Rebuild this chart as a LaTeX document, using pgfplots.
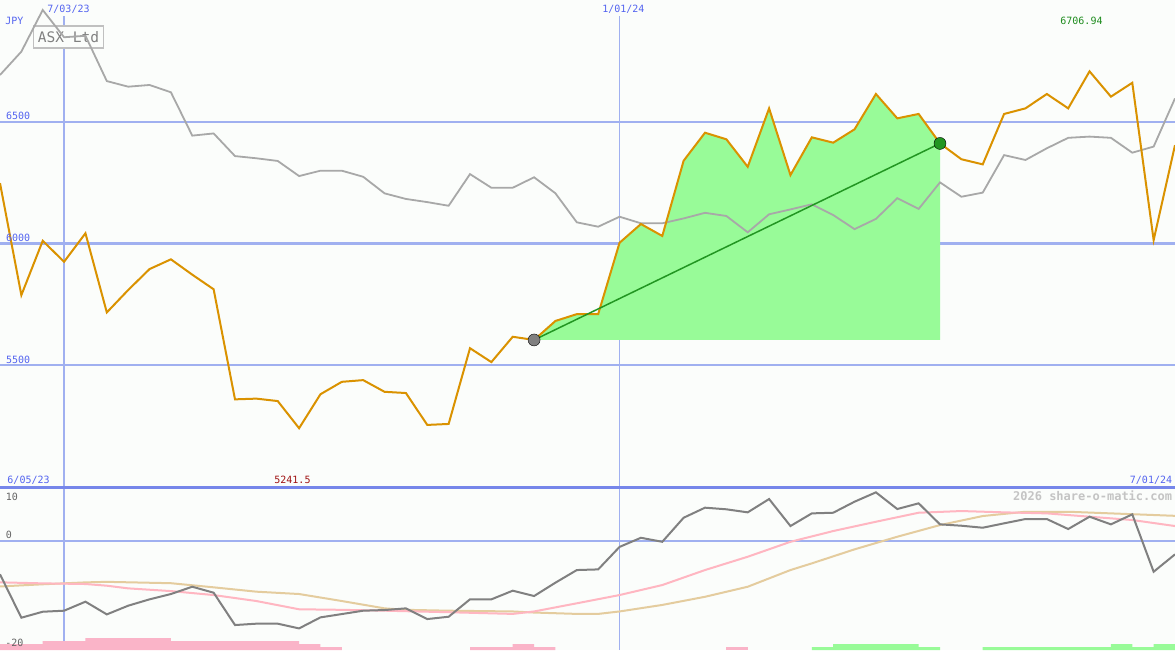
\documentclass[border=0pt]{standalone}
\usepackage{pgfplots}
\pgfplotsset{compat=1.18}
\usepackage{pgfplotstable}
\usepackage{fontspec}
\setmainfont{DejaVu Sans Mono}
\definecolor{bg}{RGB}{251,253,251}
\definecolor{gridc}{RGB}{160,176,240}
\definecolor{sepc}{RGB}{118,134,234}
\definecolor{labc}{RGB}{84,100,240}
\definecolor{orangec}{RGB}{218,146,0}
\definecolor{greyc}{RGB}{168,168,168}
\definecolor{fillg}{RGB}{152,251,152}
\definecolor{trendg}{RGB}{34,150,34}
\definecolor{dgrey}{RGB}{128,128,128}
\definecolor{pinkc}{RGB}{255,182,193}
\definecolor{pinkbar}{RGB}{250,180,200}
\definecolor{tanc}{RGB}{228,204,158}
\definecolor{maxg}{RGB}{30,140,30}
\definecolor{minr}{RGB}{160,20,20}
\definecolor{boxc}{RGB}{192,192,192}
\definecolor{wmark}{RGB}{196,196,196}
\definecolor{btick}{RGB}{100,100,100}
\newcommand\lab{\fontsize{10}{12}\selectfont}

\pgfplotstableread{
i price bench osc
0 6248 6692 -6.07
1 5788 6788 -14.05
2 6011 6959 -12.95
3 5925 6847 -12.76
4 6042 6853 -11.10
5 5717 6667 -13.44
6 5809 6644 -11.84
7 5895 6651 -10.67
8 5935 6621 -9.69
9 5872 6443 -8.35
10 5812 6452 -9.45
11 5360 6359 -15.40
12 5363 6350 -15.15
13 5353 6339 -15.15
14 5241.5 6277 -16.02
15 5381 6299 -13.99
16 5432 6299 -13.38
17 5439 6274 -12.76
18 5391 6206 -12.64
19 5386 6183 -12.33
20 5255 6170 -14.30
21 5259 6155 -13.87
22 5570 6285 -10.67
23 5513 6229 -10.67
24 5617 6229 -9.08
25 5604 6272 -10.06
26 5682 6206 -7.60
27 5710 6087 -5.28
28 5710 6069 -5.16
29 6003 6110 -1.02
30 6080 6083 0.66
31 6031 6083 -0.08
32 6340 6103 4.35
33 6455 6126 6.20
34 6428 6113 5.90
35 6315 6046 5.34
36 6555 6120 7.79
37 6281 6140 2.82
38 6436 6161 5.15
39 6414 6117 5.27
40 6469 6059 7.30
41 6614 6101 9.02
42 6514 6186 5.95
43 6532 6142 7.00
44 6411 6251 3.13
45 6346 6192 2.88
46 6325 6209 2.51
47 6532 6363 3.32
48 6555 6343 4.11
49 6614 6391 4.11
50 6555 6434 2.27
51 6706.94 6439 4.54
52 6603 6434 3.13
53 6660 6373 4.97
54 6014 6398 -5.59
55 6404 6596 -2.39
}\maintable

\pgfplotsset{panel/.style={width=1175pt, scale only axis, xmin=0, xmax=55,
  axis line style={draw=none}, tick style={draw=none}, major tick length=0pt,
  xticklabels={}, yticklabels={}, axis background/.style={fill=bg}}}

\begin{document}
\begin{tikzpicture}
% ---------------- bottom panel ----------------
\begin{axis}[panel, name=bot, at={(0pt,0pt)}, anchor=south west, height=163pt,
  ymin=-20, ymax=10, ytick={0}, ymajorgrids, y grid style={gridc, line width=1.8pt},
  xtick={3,29}, xmajorgrids, x grid style={gridc, line width=1.8pt}]
% bars
\addplot[fill=pinkbar, draw=none] coordinates {(0,-20) (0,-18.896) (2,-18.896) (2,-18.344) (4,-18.344) (4,-17.791) (8,-17.791) (8,-18.344) (14,-18.344) (14,-18.896) (15,-18.896) (15,-19.448) (16,-19.448) (16,-20)} -- cycle;
\addplot[fill=pinkbar, draw=none] coordinates {(22,-20) (22,-19.448) (24,-19.448) (24,-18.896) (25,-18.896) (25,-19.448) (26,-19.448) (26,-20)} -- cycle;
\addplot[fill=pinkbar, draw=none] coordinates {(34,-20) (34,-19.448) (35,-19.448) (35,-20)} -- cycle;
\addplot[fill=fillg, draw=none] coordinates {(38,-20) (38,-19.448) (39,-19.448) (39,-18.896) (43,-18.896) (43,-19.448) (44,-19.448) (44,-20)} -- cycle;
\addplot[fill=fillg, draw=none] coordinates {(46,-20) (46,-19.448) (52,-19.448) (52,-18.896) (53,-18.896) (53,-19.448) (54,-19.448) (54,-18.896) (55,-18.896) (55,-20)} -- cycle;
% averages
\addplot[tanc, line width=2pt] coordinates {(0,-8.3) (2,-7.9) (4,-7.55) (5,-7.45) (8,-7.7) (10,-8.46) (12,-9.26) (14,-9.69) (16,-10.98) (18,-12.33) (19,-12.6) (21,-12.76) (24,-12.9) (25,-13.1) (27,-13.35) (28,-13.35) (29,-12.9) (31,-11.7) (33,-10.2) (35,-8.35) (37,-5.28) (38,-4.05) (40,-1.47) (42,0.85) (44,3.0) (46,4.66) (48,5.45) (50,5.45) (52,5.15) (55,4.7)};
\addplot[pinkc, line width=2pt] coordinates {(0,-7.54) (2,-7.73) (4,-7.85) (5,-8.16) (6,-8.65) (8,-9.15) (10,-9.88) (12,-10.98) (14,-12.5) (16,-12.6) (18,-12.76) (21,-13.04) (24,-13.35) (25,-12.9) (27,-11.4) (29,-9.88) (31,-8.04) (33,-5.28) (35,-2.83) (37,-0.08) (39,1.9) (41,3.61) (43,5.27) (45,5.58) (47,5.34) (49,5.15) (51,4.54) (53,3.93) (55,2.82)};
\addplot[dgrey, line width=2pt] table[x=i, y=osc] {\maintable};
% labels
\node[anchor=base east, text=wmark, inner sep=0pt, font=\fontsize{12}{14}\selectfont\bfseries] at (rel axis cs:0.9977,0.916) {2026 share-o-matic.com};
\node[anchor=base west, text=btick, inner sep=0pt, font=\lab] at (rel axis cs:0.00485,0.9202) {10};
\node[anchor=base west, text=btick, inner sep=0pt, font=\lab] at (rel axis cs:0.00485,0.6853) {0};
\node[anchor=base west, text=btick, inner sep=0pt, font=\lab] at (rel axis cs:0.0043,0.0202) {-20};
\end{axis}
% ---------------- top panel ----------------
\begin{axis}[panel, name=top, at={(0pt,163pt)}, anchor=south west, height=487pt,
  ymin=5000, ymax=7000, ytick={5500,6000,6500}, ymajorgrids, y grid style={gridc, line width=2.3pt},
  xtick=\empty]
\draw[gridc, line width=1.8pt] (axis cs:3,5000) -- (axis cs:3,6934);
\draw[gridc, line width=1.4pt] (axis cs:29,5000) -- (axis cs:29,6934);
\node[draw=boxc, fill=bg, line width=1.7pt, text=dgrey, inner sep=0pt, minimum width=70pt, minimum height=22pt, font=\fontsize{14.5}{16}\selectfont] at (rel axis cs:0.0583,0.9246) {ASX Ltd};
% gain area
\addplot[fill=fillg, draw=none] coordinates {(25,5604) (26,5682) (27,5710) (28,5710) (29,6003) (30,6080) (31,6031) (32,6340) (33,6455) (34,6428) (35,6315) (36,6555) (37,6281) (38,6436) (39,6414) (40,6469) (41,6614) (42,6514) (43,6532) (44,6411) (44,5604)} -- cycle;
\addplot[greyc, line width=1.8pt] table[x=i, y=bench] {\maintable};
\addplot[only marks, mark=*, mark size=6pt, mark options={fill=dgrey, draw=none}] coordinates {(25,5604)};
\addplot[orangec, line width=2pt] table[x=i, y=price] {\maintable};
\addplot[trendg, line width=1.5pt] coordinates {(25,5604) (44,6411)};
\addplot[only marks, mark=*, mark size=6pt, mark options={fill=trendg, draw=none}] coordinates {(44,6411)};
% labels
\node[anchor=base, text=labc, inner sep=0pt, font=\lab] at (rel axis cs:0.01217,0.9495) {JPY};
\node[anchor=base, text=labc, inner sep=0pt, font=\lab] at (rel axis cs:0.0583,0.9733) {7/03/23};
\node[anchor=base, text=labc, inner sep=0pt, font=\lab] at (rel axis cs:0.5305,0.9733) {1/01/24};
\node[anchor=base, text=maxg, inner sep=0pt, font=\lab] at (rel axis cs:0.9204,0.9487) {6706.94};
\node[anchor=base west, text=labc, inner sep=0pt, font=\lab] at (rel axis cs:0.0051,0.7536) {6500};
\node[anchor=base west, text=labc, inner sep=0pt, font=\lab] at (rel axis cs:0.0051,0.5031) {6000};
\node[anchor=base west, text=labc, inner sep=0pt, font=\lab] at (rel axis cs:0.0051,0.2546) {5500};
\node[anchor=base west, text=labc, inner sep=0pt, font=\lab] at (rel axis cs:0.0062,0.0076) {6/05/23};
\node[anchor=base, text=minr, inner sep=0pt, font=\lab] at (rel axis cs:0.2489,0.0076) {5241.5};
\node[anchor=base east, text=labc, inner sep=0pt, font=\lab] at (rel axis cs:0.9977,0.0076) {7/01/24};
\end{axis}
\draw[sepc, line width=3pt] (bot.north west) -- (bot.north east);
\pgfresetboundingbox
\useasboundingbox (bot.south west) rectangle (top.north east);
\end{tikzpicture}
\end{document}
